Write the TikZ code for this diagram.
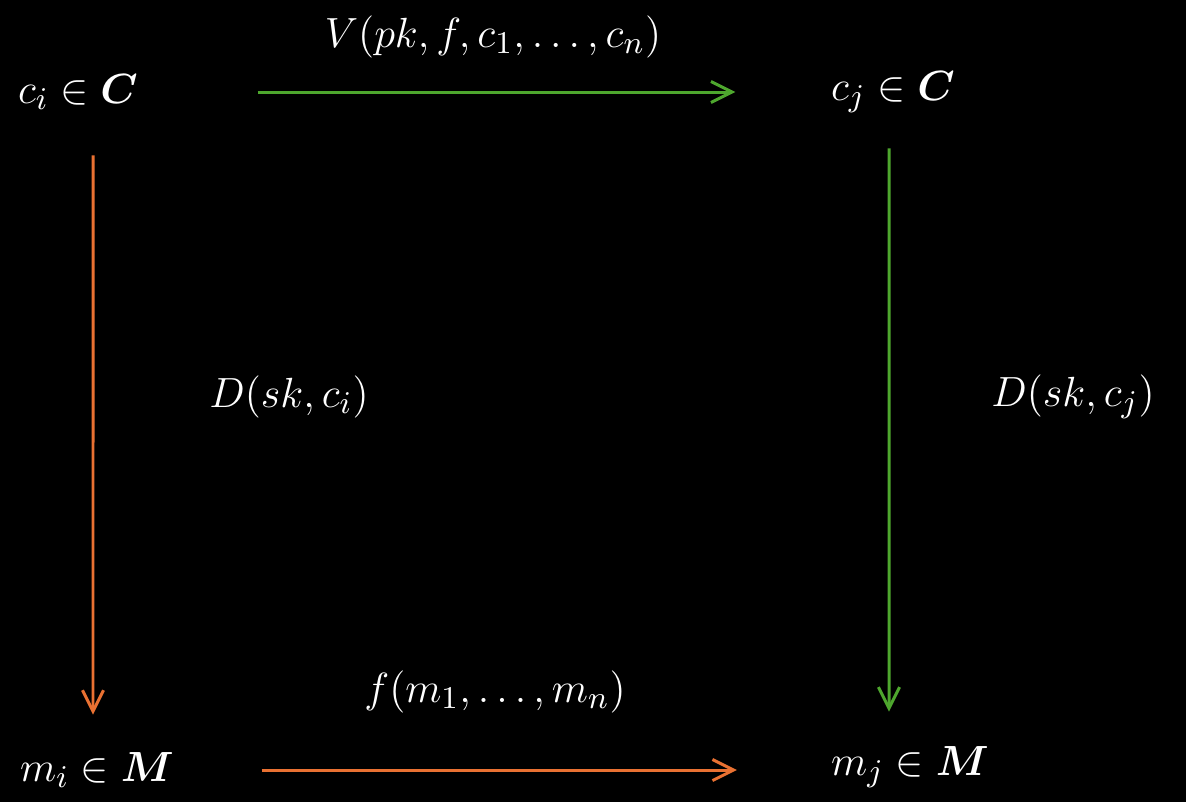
\documentclass[tikz,border=0pt]{standalone}
\usepackage{amsmath}
\usetikzlibrary{arrows.meta}

\definecolor{encgreen}{RGB}{78,167,46}
\definecolor{decorange}{RGB}{233,113,50}

\tikzset{
	setnode/.style={text=white, font=\fontsize{13}{16}\selectfont, inner sep=2pt},
	maplabel/.style={text=white, font=\fontsize{13}{16}\selectfont},
	maparrow/.style={line width=0.85pt, -{Straight Barb[length=6pt, width=6pt, line width=0.85pt]}},
}

\begin{document}
\begin{tikzpicture}[x=0.01cm, y=-0.01cm]
		\fill [black] (0, 0) rectangle (1186, 802);
		\node [setnode] (ci) at (78, 92) {$c_i \in \boldsymbol{C}$};
		\node [setnode] (cj) at (893, 92) {$c_j \in \boldsymbol{C}$};
		\node [setnode] (mi) at (97, 770) {$m_i \in \boldsymbol{M}$};
		\node [setnode] (mj) at (910, 767) {$m_j \in \boldsymbol{M}$};
		\node [maplabel] (vlab) at (493, 37) {$V(pk, f, c_1, \dots, c_n)$};
		\node [maplabel] (flab) at (495, 692) {$f(m_1, \dots, m_n)$};
		\node [maplabel] (dilab) at (289, 397) {$D(sk, c_i)$};
		\node [maplabel] (djlab) at (1073, 397) {$D(sk, c_j)$};
		\draw [maparrow, encgreen, shorten <=1.12cm, shorten >=0.88cm] (ci) -- (cj);
		\draw [maparrow, decorange, shorten <=0.8cm, shorten >=1.73cm] (mi) -- (mi -| mj);
		\draw [maparrow, decorange, shorten <=0.38cm, shorten >=0.3cm] ([xshift=0.15cm]ci.south) -- ([xshift=-0.04cm]mi.north);
		\draw [maparrow, encgreen, shorten <=0.28cm, shorten >=0.27cm] ([xshift=-0.04cm]cj.south) -- ([xshift=-0.21cm]mj.north);
	\end{tikzpicture}
\end{document}
